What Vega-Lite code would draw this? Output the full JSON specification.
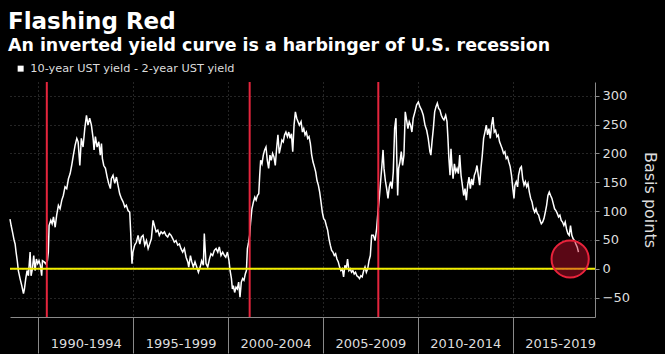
{
  "$schema": "https://vega.github.io/schema/vega-lite/v6.json",
  "width": 585,
  "height": 235,
  "autosize": {"type": "none"},
  "padding": {"left": 10, "top": 82, "right": 70, "bottom": 37},
  "background": "#000000",
  "config": {"view": {"stroke": null}, "font": "DejaVu Sans", "axis": {"labelOverlap": false}, "axisY": {"labelOverlap": false}},
  "title": {
    "text": "Flashing Red",
    "subtitle": "An inverted yield curve is a harbinger of U.S. recession",
    "anchor": "start",
    "frame": "group",
    "dx": -2,
    "offset": 9,
    "font": "DejaVu Sans",
    "fontSize": 23,
    "fontWeight": "bold",
    "color": "#ffffff",
    "subtitleFont": "DejaVu Sans",
    "subtitleFontSize": 17.4,
    "subtitleFontWeight": "bold",
    "subtitleColor": "#ffffff",
    "subtitlePadding": 3
  },
  "datasets": {
    "spread": [
      {"t":1988.51,"v":86},{"t":1988.57,"v":75},{"t":1988.64,"v":64},{"t":1988.73,"v":49},{"t":1988.78,"v":43},{"t":1988.83,"v":29},{"t":1988.90,"v":12},{"t":1988.95,"v":-3},{"t":1989.04,"v":-17},{"t":1989.13,"v":-29},{"t":1989.22,"v":-43},{"t":1989.27,"v":-35},{"t":1989.34,"v":-17},{"t":1989.41,"v":-3},{"t":1989.48,"v":-12},{"t":1989.57,"v":29},{"t":1989.62,"v":-12},{"t":1989.69,"v":0},{"t":1989.76,"v":23},{"t":1989.83,"v":-3},{"t":1989.90,"v":17},{"t":1989.97,"v":9},{"t":1990.04,"v":14},{"t":1990.11,"v":6},{"t":1990.18,"v":-12},{"t":1990.22,"v":14},{"t":1990.31,"v":12},{"t":1990.39,"v":9},{"t":1990.48,"v":14},{"t":1990.53,"v":29},{"t":1990.57,"v":75},{"t":1990.66,"v":84},{"t":1990.73,"v":78},{"t":1990.80,"v":90},{"t":1990.89,"v":72},{"t":1990.97,"v":93},{"t":1991.06,"v":110},{"t":1991.15,"v":104},{"t":1991.24,"v":119},{"t":1991.32,"v":127},{"t":1991.41,"v":142},{"t":1991.50,"v":139},{"t":1991.59,"v":156},{"t":1991.68,"v":165},{"t":1991.76,"v":179},{"t":1991.85,"v":197},{"t":1991.94,"v":214},{"t":1992.03,"v":226},
      {"t":1992.10,"v":220},{"t":1992.19,"v":179},{"t":1992.27,"v":226},{"t":1992.36,"v":211},{"t":1992.45,"v":243},{"t":1992.54,"v":266},{"t":1992.62,"v":249},{"t":1992.71,"v":261},{"t":1992.80,"v":249},{"t":1992.89,"v":226},{"t":1992.94,"v":206},{"t":1993.01,"v":229},{"t":1993.10,"v":211},{"t":1993.19,"v":220},{"t":1993.27,"v":197},{"t":1993.33,"v":217},{"t":1993.38,"v":191},{"t":1993.45,"v":179},{"t":1993.54,"v":174},{"t":1993.63,"v":159},{"t":1993.71,"v":148},{"t":1993.80,"v":139},{"t":1993.85,"v":156},{"t":1993.94,"v":162},{"t":1994.03,"v":148},{"t":1994.12,"v":159},{"t":1994.20,"v":145},{"t":1994.29,"v":130},{"t":1994.38,"v":122},{"t":1994.47,"v":116},{"t":1994.56,"v":107},{"t":1994.64,"v":110},{"t":1994.73,"v":101},{"t":1994.82,"v":98},{"t":1994.87,"v":64},{"t":1994.91,"v":29},{"t":1994.94,"v":9},{"t":1994.99,"v":29},{"t":1995.08,"v":41},{"t":1995.17,"v":46},{"t":1995.26,"v":58},{"t":1995.35,"v":43},{"t":1995.43,"v":55},{"t":1995.52,"v":58},{"t":1995.61,"v":41},{"t":1995.70,"v":49},{"t":1995.79,"v":35},{"t":1995.87,"v":43},{"t":1995.96,"v":52},{"t":1996.05,"v":84},
      {"t":1996.21,"v":64},{"t":1996.30,"v":67},{"t":1996.38,"v":58},{"t":1996.47,"v":64},{"t":1996.56,"v":61},{"t":1996.65,"v":64},{"t":1996.73,"v":58},{"t":1996.82,"v":55},{"t":1996.91,"v":61},{"t":1997.00,"v":58},{"t":1997.09,"v":52},{"t":1997.17,"v":46},{"t":1997.26,"v":49},{"t":1997.35,"v":41},{"t":1997.44,"v":43},{"t":1997.52,"v":35},{"t":1997.61,"v":29},{"t":1997.70,"v":35},{"t":1997.79,"v":20},{"t":1997.88,"v":12},{"t":1997.93,"v":3},{"t":1998.02,"v":23},{"t":1998.09,"v":12},{"t":1998.17,"v":3},{"t":1998.26,"v":12},{"t":1998.35,"v":3},{"t":1998.44,"v":-6},{"t":1998.53,"v":3},{"t":1998.61,"v":14},{"t":1998.70,"v":6},{"t":1998.75,"v":61},{"t":1998.79,"v":38},{"t":1998.84,"v":9},{"t":1998.93,"v":3},{"t":1999.02,"v":17},{"t":1999.10,"v":26},{"t":1999.19,"v":23},{"t":1999.28,"v":32},{"t":1999.37,"v":35},{"t":1999.46,"v":29},{"t":1999.54,"v":38},{"t":1999.63,"v":23},{"t":1999.72,"v":29},{"t":1999.81,"v":23},
      {"t":1999.88,"v":20},{"t":1999.97,"v":29},{"t":2000.05,"v":14},{"t":2000.11,"v":-3},{"t":2000.18,"v":-17},{"t":2000.23,"v":-35},{"t":2000.28,"v":-29},{"t":2000.35,"v":-41},{"t":2000.42,"v":-32},{"t":2000.49,"v":-35},{"t":2000.56,"v":-23},{"t":2000.63,"v":-49},{"t":2000.70,"v":-23},{"t":2000.77,"v":-17},{"t":2000.84,"v":-20},{"t":2000.91,"v":-9},{"t":2000.97,"v":-3},{"t":2001.02,"v":35},{"t":2001.07,"v":43},{"t":2001.14,"v":58},{"t":2001.19,"v":81},{"t":2001.26,"v":104},{"t":2001.34,"v":116},{"t":2001.41,"v":124},{"t":2001.48,"v":119},{"t":2001.55,"v":127},{"t":2001.62,"v":130},{"t":2001.67,"v":162},{"t":2001.72,"v":188},{"t":2001.79,"v":182},{"t":2001.86,"v":197},{"t":2001.93,"v":206},{"t":2002.00,"v":211},{"t":2002.07,"v":188},{"t":2002.14,"v":174},{"t":2002.21,"v":197},{"t":2002.28,"v":188},{"t":2002.35,"v":200},{"t":2002.42,"v":194},{"t":2002.49,"v":179},{"t":2002.56,"v":208},{"t":2002.63,"v":232},{"t":2002.70,"v":200},{"t":2002.77,"v":211},{"t":2002.84,"v":223},{"t":2002.91,"v":220},{"t":2002.98,"v":232},{"t":2003.05,"v":237},{"t":2003.13,"v":229},{"t":2003.20,"v":237},{"t":2003.27,"v":226},{"t":2003.34,"v":234},{"t":2003.41,"v":203},{"t":2003.48,"v":249},{"t":2003.55,"v":272},{"t":2003.62,"v":261},{"t":2003.69,"v":255},{"t":2003.76,"v":249},
      {"t":2003.85,"v":255},{"t":2003.92,"v":237},{"t":2003.99,"v":243},{"t":2004.06,"v":232},{"t":2004.13,"v":237},{"t":2004.20,"v":226},{"t":2004.27,"v":229},{"t":2004.34,"v":217},{"t":2004.41,"v":197},{"t":2004.48,"v":185},{"t":2004.55,"v":177},{"t":2004.62,"v":168},{"t":2004.69,"v":153},{"t":2004.76,"v":145},{"t":2004.83,"v":133},{"t":2004.90,"v":116},{"t":2004.97,"v":98},{"t":2005.04,"v":87},{"t":2005.11,"v":84},{"t":2005.18,"v":75},{"t":2005.25,"v":67},{"t":2005.32,"v":52},{"t":2005.39,"v":41},{"t":2005.46,"v":32},{"t":2005.53,"v":29},{"t":2005.60,"v":23},{"t":2005.67,"v":26},{"t":2005.74,"v":17},{"t":2005.81,"v":12},{"t":2005.88,"v":3},{"t":2005.95,"v":-3},{"t":2006.02,"v":0},{"t":2006.09,"v":-14},{"t":2006.16,"v":6},{"t":2006.23,"v":0},{"t":2006.30,"v":17},{"t":2006.37,"v":-3},{"t":2006.44,"v":0},{"t":2006.51,"v":-6},{"t":2006.58,"v":-3},{"t":2006.65,"v":-9},{"t":2006.72,"v":-6},{"t":2006.79,"v":-12},{"t":2006.86,"v":-14},{"t":2006.93,"v":-17},{"t":2007.00,"v":-12},{"t":2007.07,"v":-14},{"t":2007.15,"v":-3},{"t":2007.22,"v":3},{"t":2007.29,"v":-6},{"t":2007.36,"v":0},{"t":2007.43,"v":14},{"t":2007.50,"v":23},{"t":2007.57,"v":58},
      {"t":2007.66,"v":58},{"t":2007.75,"v":49},{"t":2007.83,"v":69},{"t":2007.90,"v":98},{"t":2007.97,"v":122},{"t":2008.04,"v":151},{"t":2008.11,"v":179},{"t":2008.17,"v":206},{"t":2008.22,"v":174},{"t":2008.29,"v":153},{"t":2008.36,"v":139},{"t":2008.43,"v":122},{"t":2008.50,"v":142},{"t":2008.57,"v":151},{"t":2008.64,"v":139},{"t":2008.71,"v":168},{"t":2008.78,"v":243},{"t":2008.85,"v":261},{"t":2008.89,"v":197},{"t":2008.94,"v":127},{"t":2008.99,"v":174},{"t":2009.06,"v":185},{"t":2009.13,"v":203},{"t":2009.20,"v":179},{"t":2009.27,"v":197},{"t":2009.34,"v":272},{"t":2009.41,"v":258},{"t":2009.48,"v":243},{"t":2009.55,"v":255},{"t":2009.62,"v":249},{"t":2009.69,"v":237},{"t":2009.76,"v":261},{"t":2009.85,"v":272},{"t":2009.94,"v":284},{"t":2010.03,"v":289},{"t":2010.11,"v":281},{"t":2010.20,"v":275},{"t":2010.29,"v":266},{"t":2010.38,"v":249},{"t":2010.47,"v":240},{"t":2010.55,"v":226},{"t":2010.64,"v":203},{"t":2010.69,"v":197},{"t":2010.75,"v":220},{"t":2010.82,"v":243},{"t":2010.89,"v":272},{"t":2010.96,"v":281},{"t":2011.03,"v":287},{"t":2011.10,"v":278},{"t":2011.17,"v":275},{"t":2011.24,"v":266},{"t":2011.31,"v":261},{"t":2011.38,"v":258},
      {"t":2011.47,"v":266},{"t":2011.54,"v":255},{"t":2011.59,"v":226},{"t":2011.64,"v":191},{"t":2011.70,"v":162},{"t":2011.75,"v":208},{"t":2011.80,"v":179},{"t":2011.86,"v":156},{"t":2011.93,"v":182},{"t":2012.00,"v":168},{"t":2012.07,"v":174},{"t":2012.14,"v":165},{"t":2012.21,"v":197},{"t":2012.28,"v":162},{"t":2012.35,"v":145},{"t":2012.42,"v":127},{"t":2012.49,"v":139},{"t":2012.56,"v":119},{"t":2012.63,"v":145},{"t":2012.70,"v":159},{"t":2012.77,"v":139},{"t":2012.84,"v":156},{"t":2012.91,"v":145},{"t":2012.98,"v":162},{"t":2013.05,"v":168},{"t":2013.12,"v":179},{"t":2013.19,"v":162},{"t":2013.26,"v":145},{"t":2013.33,"v":174},{"t":2013.40,"v":197},{"t":2013.47,"v":226},{"t":2013.54,"v":237},{"t":2013.61,"v":249},{"t":2013.68,"v":232},{"t":2013.75,"v":243},{"t":2013.82,"v":226},{"t":2013.89,"v":249},{"t":2013.96,"v":263},{"t":2014.03,"v":237},{"t":2014.10,"v":240},{"t":2014.17,"v":229},{"t":2014.24,"v":232},{"t":2014.31,"v":220},{"t":2014.38,"v":214},{"t":2014.45,"v":208},{"t":2014.52,"v":200},{"t":2014.59,"v":203},{"t":2014.66,"v":191},{"t":2014.73,"v":194},{"t":2014.80,"v":185},{"t":2014.87,"v":177},{"t":2014.94,"v":162},{"t":2015.01,"v":139},{"t":2015.07,"v":122},{"t":2015.12,"v":145},{"t":2015.19,"v":151},{"t":2015.26,"v":142},
      {"t":2015.31,"v":162},{"t":2015.39,"v":174},{"t":2015.46,"v":177},{"t":2015.53,"v":156},{"t":2015.60,"v":145},{"t":2015.67,"v":151},{"t":2015.74,"v":142},{"t":2015.81,"v":148},{"t":2015.88,"v":133},{"t":2015.95,"v":122},{"t":2016.02,"v":116},{"t":2016.09,"v":104},{"t":2016.16,"v":98},{"t":2016.23,"v":104},{"t":2016.30,"v":96},{"t":2016.37,"v":93},{"t":2016.44,"v":84},{"t":2016.51,"v":78},{"t":2016.58,"v":81},{"t":2016.65,"v":87},{"t":2016.72,"v":98},{"t":2016.79,"v":110},{"t":2016.86,"v":127},{"t":2016.93,"v":133},{"t":2017.00,"v":127},{"t":2017.07,"v":122},{"t":2017.14,"v":113},{"t":2017.21,"v":104},{"t":2017.28,"v":101},{"t":2017.35,"v":96},{"t":2017.42,"v":90},{"t":2017.49,"v":93},{"t":2017.56,"v":84},{"t":2017.63,"v":81},{"t":2017.70,"v":75},{"t":2017.77,"v":81},{"t":2017.84,"v":69},{"t":2017.91,"v":61},{"t":2017.98,"v":58},{"t":2018.05,"v":75},{"t":2018.12,"v":58},{"t":2018.19,"v":52},{"t":2018.26,"v":49},{"t":2018.33,"v":43},{"t":2018.40,"v":38},{"t":2018.47,"v":29}
    ],
    "recessions": [{"t": 1990.45}, {"t": 2001.14}, {"t": 2007.92}],
    "marker": [{"t": 2018.03, "v": 17}]
  },
  "layer": [
    {
      "data": {"name": "spread"},
      "mark": {"type": "line", "stroke": "#ffffff", "strokeWidth": 1.5},
      "encoding": {
        "x": {
          "field": "t", "type": "quantitative",
          "scale": {"domain": [1988.51, 2019.34], "nice": false, "zero": false},
          "axis": {
            "title": null,
            "values": [1990, 1995, 2000, 2005, 2010, 2015],
            "labelExpr": "datum.value + '-' + (datum.value + 4)",
            "labelAlign": "center",
            "labelOffset": 47.5,
            "labelPadding": -16,
            "labelFont": "DejaVu Sans",
            "labelFontSize": 13,
            "labelColor": "#dddddd",
            "labelBound": false,
            "labelOverlap": false,
            "labelFlush": false,
            "tickSize": 36,
            "tickColor": "#8a8a8a",
            "domainColor": "#8a8a8a",
            "grid": true,
            "gridColor": "#4a4a4a",
            "gridDash": [1, 3]
          }
        },
        "y": {
          "field": "v", "type": "quantitative",
          "scale": {"domain": [-83.5, 323.7], "nice": false, "zero": false},
          "axis": {
            "orient": "right",
            "title": "Basis points",
            "titleAngle": 90,
            "titleFont": "DejaVu Sans",
            "titleFontSize": 16,
            "titleFontWeight": "normal",
            "titleColor": "#dddddd",
            "titlePadding": 12,
            "values": [-50, 0, 50, 100, 150, 200, 250, 300],
            "labelFont": "DejaVu Sans",
            "labelFontSize": 13,
            "labelColor": "#dddddd",
            "labelPadding": 3,
            "labelOverlap": false,
            "labelBound": false,
            "labelFlush": false,
            "tickSize": 4,
            "tickColor": "#8a8a8a",
            "domainColor": "#8a8a8a",
            "grid": true,
            "gridColor": "#4a4a4a",
            "gridDash": [1, 3]
          }
        },
        "color": {
          "datum": "10-year UST yield - 2-year UST yield",
          "scale": {"range": ["#ffffff"]},
          "legend": {
            "orient": "none",
            "legendX": 5,
            "legendY": -19,
            "title": null,
            "padding": 0,
            "symbolType": "square",
            "symbolSize": 36,
            "labelFont": "DejaVu Sans",
            "labelFontSize": 11.3,
            "labelColor": "#dddddd",
            "labelOffset": 4,
            "labelLimit": 400,
            "encode": {
              "symbols": {
                "update": {
                  "fill": {"value": "#ffffff"},
                  "stroke": {"value": "#ffffff"},
                  "strokeWidth": {"value": 0},
                  "shape": {"value": "square"},
                  "size": {"value": 36}
                }
              }
            }
          }
        }
      }
    },
    {
      "data": {"name": "recessions"},
      "mark": {"type": "rule", "stroke": "#e5253d", "strokeWidth": 2},
      "encoding": {"x": {"field": "t", "type": "quantitative"}}
    },
    {
      "data": {"values": [{"z": 0}]},
      "mark": {"type": "rule", "stroke": "#f2ee00", "strokeWidth": 2},
      "encoding": {"y": {"field": "z", "type": "quantitative", "axis": {"labelOverlap": false, "values": [-50, 0, 50, 100, 150, 200, 250, 300]}}}
    },
    {
      "data": {"name": "marker"},
      "mark": {"type": "point", "shape": "circle", "filled": true, "fill": "#c8102e", "fillOpacity": 0.45, "stroke": "#e8233b", "strokeWidth": 2, "strokeOpacity": 1, "size": 1385},
      "encoding": {
        "x": {"field": "t", "type": "quantitative"},
        "y": {"field": "v", "type": "quantitative", "axis": {"labelOverlap": false, "values": [-50, 0, 50, 100, 150, 200, 250, 300]}}
      }
    }
  ]
}
